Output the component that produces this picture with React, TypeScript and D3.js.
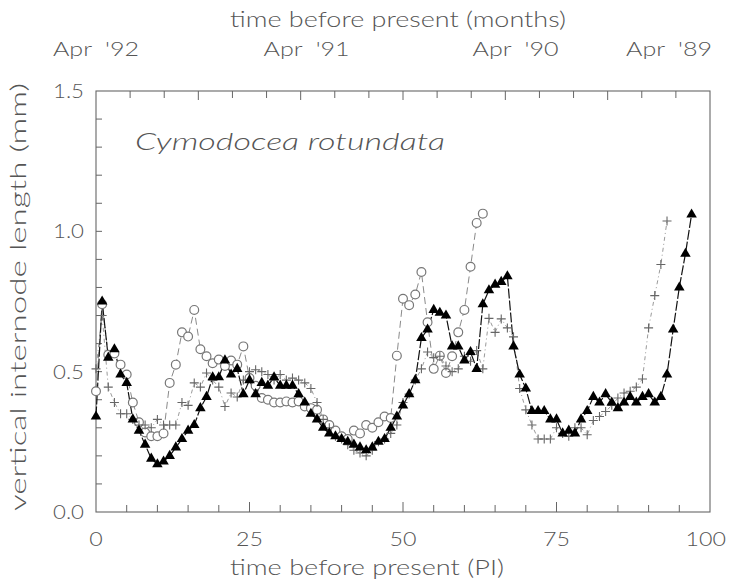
import React from "react";
import * as d3 from "d3";

const W = 729;
const H = 581;

// filled triangles, PI 0..97
const triangleSeries = [
  0.34, 0.75, 0.55, 0.58, 0.49, 0.46, 0.33, 0.29, 0.24, 0.19,
  0.17, 0.18, 0.20, 0.23, 0.26, 0.29, 0.31, 0.37, 0.41, 0.48,
  0.48, 0.54, 0.49, 0.51, 0.42, 0.47, 0.42, 0.46, 0.45, 0.48,
  0.45, 0.45, 0.45, 0.42, 0.39, 0.35, 0.33, 0.30, 0.28, 0.27,
  0.26, 0.25, 0.24, 0.23, 0.22, 0.23, 0.25, 0.26, 0.30, 0.34,
  0.38, 0.42, 0.47, 0.62, 0.65, 0.72, 0.71, 0.70, 0.59, 0.59,
  0.54, 0.57, 0.51, 0.74, 0.79, 0.81, 0.82, 0.84, 0.59, 0.49,
  0.44, 0.36, 0.36, 0.36, 0.33, 0.33, 0.28, 0.29, 0.28, 0.33,
  0.36, 0.41, 0.39, 0.42, 0.39, 0.37, 0.39, 0.41, 0.39, 0.41,
  0.42, 0.39, 0.41, 0.49, 0.65, 0.80, 0.92, 1.06,
];

// open circles, PI 0..63
const circleSeries = [
  0.43, 0.74, 0.56, 0.565, 0.525, 0.49, 0.39, 0.32, 0.283, 0.27,
  0.27, 0.28, 0.46, 0.525, 0.64, 0.625, 0.72, 0.58, 0.555, 0.53,
  0.543, 0.52, 0.54, 0.525, 0.59, 0.477, 0.45, 0.406, 0.40, 0.39,
  0.39, 0.394, 0.39, 0.394, 0.376, 0.37, 0.364, 0.33, 0.31, 0.29,
  0.27, 0.26, 0.29, 0.28, 0.31, 0.30, 0.32, 0.34, 0.335, 0.557,
  0.76, 0.737, 0.775, 0.855, 0.676, 0.51, 0.557, 0.495, 0.555, 0.64,
  0.72, 0.874, 1.03, 1.063,
];

// plus signs, PI 0..93
const plusSeries = [
  0.51, 0.70, 0.445, 0.39, 0.35, 0.35, 0.33, 0.31, 0.31, 0.30,
  0.33, 0.31, 0.31, 0.31, 0.39, 0.38, 0.46, 0.445, 0.495, 0.47,
  0.445, 0.376, 0.424, 0.41, 0.47, 0.50, 0.507, 0.50, 0.49, 0.47,
  0.49, 0.47, 0.477, 0.47, 0.46, 0.44, 0.39, 0.33, 0.30, 0.27,
  0.26, 0.24, 0.22, 0.21, 0.20, 0.22, 0.25, 0.26, 0.28, 0.31,
  0.39, 0.42, 0.47, 0.51, 0.57, 0.55, 0.555, 0.52, 0.50, 0.51,
  0.555, 0.537, 0.575, 0.51, 0.69, 0.64, 0.688, 0.656, 0.624, 0.44,
  0.364, 0.31, 0.26, 0.26, 0.26, 0.30, 0.28, 0.27, 0.30, 0.30,
  0.275, 0.326, 0.34, 0.358, 0.38, 0.406, 0.424, 0.43, 0.445, 0.474,
  0.656, 0.771, 0.882, 1.037,
];

const xTickLabels = [0, 25, 50, 75, 100];
const yTickLabels = [0.0, 0.5, 1.0, 1.5];
const topLabels = ["Apr  '92", "Apr  '91", "Apr  '90", "Apr  '89"];
const topLabelMonths = [0, 12.35, 24.6, 33.6];

const FONT = "Lato, 'DejaVu Sans', sans-serif";
const TXT = "#555";

export default function App() {
  const left = 96, right = 710, top = 91, bottom = 512;
  const x = d3.scaleLinear().domain([0, 100]).range([left, right]);
  const y = d3.scaleLinear().domain([0, 1.5]).range([bottom, top]);
  const xm = d3.scaleLinear().domain([0, 36]).range([left, right]);

  const line = d3
    .line<number>()
    .x((_, i) => x(i))
    .y((d) => y(d));

  const tri = d3.symbol().type(d3.symbolTriangle).size(48)() as string;

  const xMinor = d3.range(5, 100, 5);
  const yMinor = d3.range(1, 15).map((v) => v / 10);
  const topMinor = d3.range(2, 36, 2);

  const digitLen = (s: string) => s.length * 13.5;
  const stretch = { lengthAdjust: "spacingAndGlyphs" as const };

  return (
    <svg width={W} height={H} style={{ display: "block", position: "absolute", left: 0, top: 0, background: "#fff" }}>
      <rect x={0} y={0} width={W} height={H} fill="#fff" />
      <rect x={left} y={top} width={right - left} height={bottom - top} fill="none" stroke="#666" strokeWidth={1.1} />
      {xMinor.map((v) => (
        <line key={"xb" + v} x1={x(v)} x2={x(v)} y1={bottom} y2={bottom - (v % 25 === 0 ? 10 : 7)} stroke="#666" strokeWidth={1} />
      ))}
      {topMinor.map((v) => (
        <line key={"xt" + v} x1={xm(v)} x2={xm(v)} y1={top} y2={top + (v % 6 === 0 ? 9 : 7)} stroke="#666" strokeWidth={1} />
      ))}
      {yMinor.map((v) => (
        <line key={"yl" + v} x1={left} x2={left + 6} y1={y(v)} y2={y(v)} stroke="#666" strokeWidth={1} />
      ))}
      {xTickLabels.map((v, i) => {
        const last = i === xTickLabels.length - 1;
        return (
          <text key={"xl" + v} x={last ? 726 : x(v)} y={546} textAnchor={last ? "end" : "middle"} fontFamily={FONT} fontWeight={300} fontSize={19} fill={TXT}
            textLength={digitLen(String(v))} {...stretch}>
            {v}
          </text>
        );
      })}
      {yTickLabels.map((v) => (
        <text key={"yl" + v} x={84} y={y(v) + 7} textAnchor="end" fontFamily={FONT} fontWeight={300} fontSize={19} fill={TXT}
          textLength={31} {...stretch}>
          {v.toFixed(1)}
        </text>
      ))}
      {topLabels.map((t, i) => (
        <text key={t} x={xm(topLabelMonths[i])} y={56} textAnchor="middle" fontFamily={FONT} fontWeight={300} fontSize={19} fill={TXT}
          textLength={86} {...stretch} style={{ whiteSpace: "pre" }}>
          {t}
        </text>
      ))}
      <text x={230} y={27} fontFamily={FONT} fontWeight={300} fontSize={21} fill={TXT} textLength={336} {...stretch}>
        time before present (months)
      </text>
      <text x={230} y={575} fontFamily={FONT} fontWeight={300} fontSize={21} fill={TXT} textLength={274} {...stretch}>
        time before present (PI)
      </text>
      <text transform={`translate(26,${297}) rotate(-90)`} textAnchor="middle" fontFamily={FONT} fontWeight={300} fontSize={22} fill={TXT}
        textLength={428} {...stretch}>
        vertical internode length (mm)
      </text>
      <text x={135} y={150} fontFamily={FONT} fontWeight={300} fontStyle="italic" fontSize={23} fill={TXT} textLength={310} {...stretch}>
        Cymodocea rotundata
      </text>

      <path d={line(circleSeries) || ""} fill="none" stroke="#8a8a8a" strokeWidth={1} strokeDasharray="7,4" />
      <path d={line(plusSeries) || ""} fill="none" stroke="#9a9a9a" strokeWidth={1} strokeDasharray="4,3,1,3" />
      <path d={line(triangleSeries) || ""} fill="none" stroke="#111" strokeWidth={1.2} strokeDasharray="10,2" />

      {circleSeries.map((v, i) => (
        <circle key={"c" + i} cx={x(i)} cy={y(v)} r={4.4} fill="#fff" stroke="#777" strokeWidth={1.2} />
      ))}
      {plusSeries.map((v, i) => (
        <path key={"p" + i} d="M-4.5,0H4.5M0,-4.5V4.5" transform={`translate(${x(i)},${y(v)})`} stroke="#666" strokeWidth={1.1} fill="none" />
      ))}
      {triangleSeries.map((v, i) => (
        <path key={"t" + i} d={tri} transform={`translate(${x(i)},${y(v)})`} fill="#000" />
      ))}
    </svg>
  );
}
